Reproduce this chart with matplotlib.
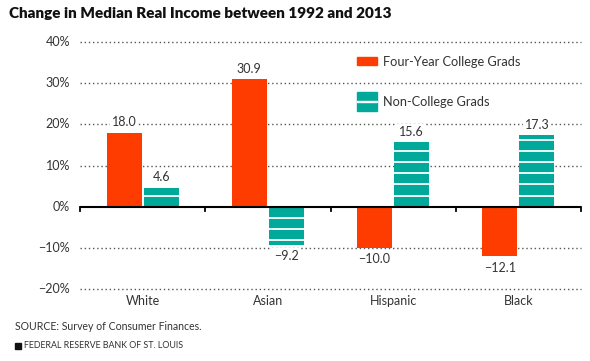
import matplotlib
matplotlib.use("Agg")
import matplotlib.pyplot as plt
from matplotlib.patches import Rectangle
import numpy as np

plt.rcParams['font.family'] = ['Lato', 'DejaVu Sans']

categories = ["White", "Asian", "Hispanic", "Black"]
college = [18.0, 30.9, -10.0, -12.1]
noncollege = [4.6, -9.2, 15.6, 17.3]
yticks = [-20, -10, 0, 10, 20, 30, 40]
title = "Change in Median Real Income between 1992 and 2013"
source = "SOURCE: Survey of Consumer Finances."
org = "FEDERAL RESERVE BANK OF ST. LOUIS"
leg_labels = ["Four-Year College Grads", "Non-College Grads"]

ORANGE = "#FF3C00"
TEAL = "#00A99A"
TXT = "#333333"

W, H = 590, 361
fig = plt.figure(figsize=(5.9, 3.61), dpi=100)
x0, x1 = 80, 581
y_top, y_bot = 42, 289  # pixel rows for 40 and -20
ax = fig.add_axes([x0 / W, 1 - y_bot / H, (x1 - x0) / W, (y_bot - y_top) / H])
ax.set_xlim(-0.5, len(categories) - 0.5)
ax.set_ylim(-20, 40)
for s in ax.spines.values():
    s.set_visible(False)
ax.set_xticks([])
ax.set_yticks([])
ax.patch.set_alpha(0)

# gridlines
for t in yticks:
    if t == 0:
        continue
    ax.plot([-0.5, 3.5], [t, t], color="#555555", lw=1.0, ls=(0, (1, 2)),
            zorder=1, clip_on=False)

# y tick labels
for t in yticks:
    ax.text(-0.58, t, f"{t}%".replace("-", "\u2212"), ha="right", va="center",
            fontsize=9, color=TXT)

x = np.arange(len(categories))
bw = 0.28
off = 0.148
ax.bar(x - off, college, width=bw, color=ORANGE, zorder=3)
ax.bar(x + off, noncollege, width=bw, color=TEAL, zorder=3)

# stripes on non-college bars
period = 2.7
for xi, v in zip(x, noncollege):
    k = 1
    while k * period < abs(v) - 0.3:
        yy = np.sign(v) * k * period
        ax.plot([xi + off - bw / 2, xi + off + bw / 2], [yy, yy], color="white",
                lw=1.3, zorder=4, solid_capstyle="butt")
        k += 1

# value labels
def lab(xp, v):
    s = f"{v:.1f}".replace("-", "\u2212")
    if v >= 0:
        ax.text(xp, v + 1.1, s, ha="center", va="bottom", fontsize=9, color=TXT,
                zorder=5, bbox=dict(boxstyle="square,pad=0.15", fc="white", ec="none"))
    else:
        ax.text(xp, v - 1.3, s, ha="center", va="top", fontsize=9, color=TXT,
                zorder=5, bbox=dict(boxstyle="square,pad=0.15", fc="white", ec="none"))

for xi, v in zip(x, college):
    lab(xi - off, v)
for xi, v in zip(x, noncollege):
    lab(xi + off, v)

# zero axis and ticks
ax.plot([-0.5, 3.5], [0, 0], color="black", lw=1.5, zorder=6, clip_on=False,
        solid_capstyle="butt")
for b in np.arange(-0.5, 4.0, 1.0):
    ax.plot([b, b], [0, -1.0], color="black", lw=1.3, zorder=6, clip_on=False)

# category labels
for xi, c in zip(x, categories):
    ax.text(xi, -21.5, c, ha="center", va="top", fontsize=9, color=TXT)

# legend
def px(xp, yp):
    return xp / W, 1 - yp / H

lx = 357
fig.patches.append(Rectangle(px(lx, 65), 20 / W, 8 / H, transform=fig.transFigure,
                             color=ORANGE, zorder=5))
fig.patches.append(Rectangle(px(lx, 111), 20 / W, 19 / H, transform=fig.transFigure,
                             color=TEAL, zorder=5))
fig.patches.append(Rectangle(px(lx, 102.3), 20 / W, 1.8 / H, transform=fig.transFigure,
                             color="white", zorder=6))
fig.text(*px(383, 62), leg_labels[0], ha="left", va="center", fontsize=9.2, color=TXT)
fig.text(*px(383, 102), leg_labels[1], ha="left", va="center", fontsize=9.2, color=TXT)

# title and footer
fig.text(*px(9, 14), title, ha="left", va="center", fontsize=11, fontweight="heavy",
         color="#111111")
fig.text(*px(15, 327), source, ha="left", va="center", fontsize=7.6, color=TXT)
fig.patches.append(Rectangle(px(15, 349), 6 / W, 6 / H, transform=fig.transFigure,
                             color="#111111"))
fig.text(*px(24, 346), org, ha="left", va="center", fontsize=6.4, color=TXT)

fig.savefig("out.png", dpi=100)
